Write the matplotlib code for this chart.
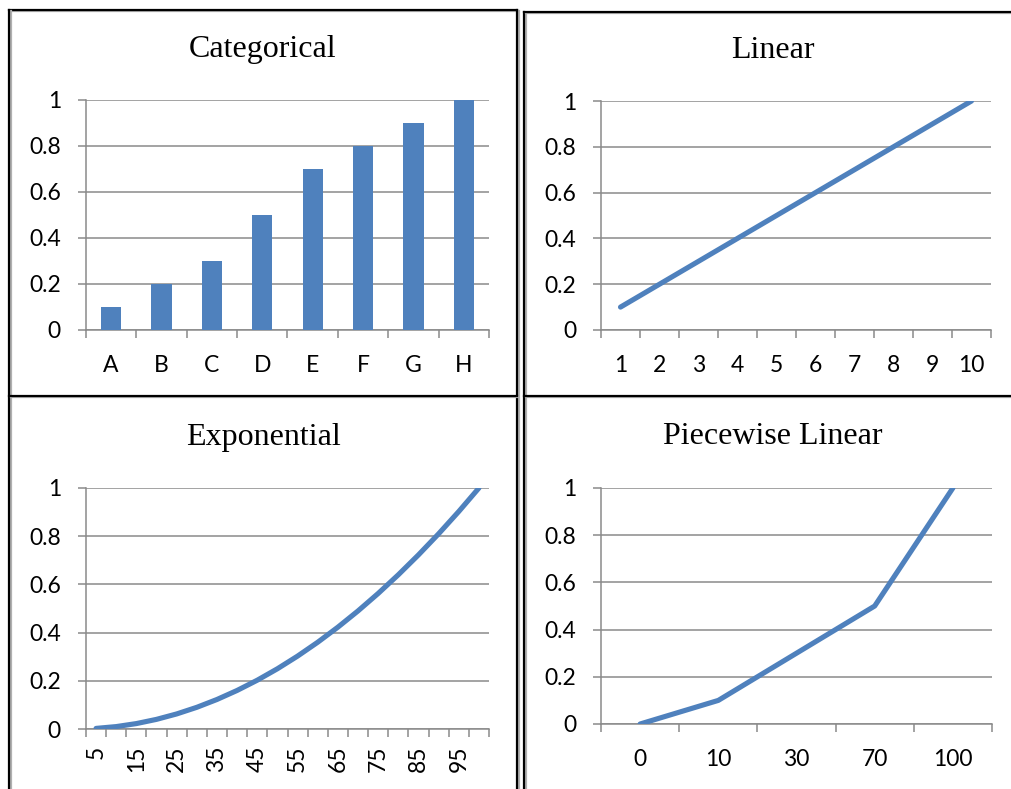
import matplotlib
matplotlib.use("Agg")
import matplotlib.pyplot as plt
from matplotlib.lines import Line2D
import numpy as np

# data for the four panels
cat_labels = ["A", "B", "C", "D", "E", "F", "G", "H"]
cat_values = [0.1, 0.2, 0.3, 0.5, 0.7, 0.8, 0.9, 1.0]

lin_labels = ["1", "2", "3", "4", "5", "6", "7", "8", "9", "10"]
lin_values = [0.1, 0.2, 0.3, 0.4, 0.5, 0.6, 0.7, 0.8, 0.9, 1.0]

exp_labels = ["5", "10", "15", "20", "25", "30", "35", "40", "45", "50",
              "55", "60", "65", "70", "75", "80", "85", "90", "95", "100"]
exp_values = [0.0025, 0.01, 0.0225, 0.04, 0.0625, 0.09, 0.1225, 0.16, 0.2025, 0.25,
              0.3025, 0.36, 0.4225, 0.49, 0.5625, 0.64, 0.7225, 0.81, 0.9025, 1.0]

pw_labels = ["0", "10", "30", "70", "100"]
pw_values = [0.0, 0.1, 0.3, 0.5, 1.0]

y_ticks = [0, 0.2, 0.4, 0.6, 0.8, 1]
y_ticklabels = ["0", "0.2", "0.4", "0.6", "0.8", "1"]

BLUE = "#4F81BD"
GRID = "#8A8A8A"
TICK_FONT = dict(fontfamily="Lato", fontsize=16.5)
W, H = 1012, 789

fig = plt.figure(figsize=(W / 100, H / 100), dpi=100)
fig.patch.set_facecolor("white")


def px_axes(x0, y0, x1, y1):
    # axes from pixel box (top-left origin)
    return fig.add_axes([x0 / W, 1 - y1 / H, (x1 - x0) / W, (y1 - y0) / H])


def style(ax, n, tick_pad=18):
    ax.set_ylim(0, 1)
    ax.set_xlim(-0.5, n - 0.5)
    ax.set_yticks(y_ticks)
    ax.set_yticklabels(y_ticklabels, **TICK_FONT)
    ax.yaxis.grid(True, color=GRID, linewidth=1.1)
    ax.set_axisbelow(True)
    ax.tick_params(axis="y", length=6, width=1.1, color=GRID, pad=12)
    for s in ["top", "right"]:
        ax.spines[s].set_visible(False)
    for s in ["left", "bottom"]:
        ax.spines[s].set_color(GRID)
        ax.spines[s].set_linewidth(1.1)
    ax.set_xticks(np.arange(-0.5, n), minor=True)
    ax.tick_params(axis="x", which="minor", length=6, width=1.1, color=GRID)
    ax.tick_params(axis="x", which="major", length=0, pad=tick_pad)


def panel_title(text, x, y):
    fig.text(x / W, 1 - y / H, text, ha="center", va="center",
             fontfamily="Liberation Serif", fontsize=23)


# Categorical
ax1 = px_axes(86, 100, 489, 330)
ax1.bar(np.arange(len(cat_values)), cat_values, width=0.4, color=BLUE, zorder=3)
ax1.set_xticks(np.arange(len(cat_labels)))
ax1.set_xticklabels(cat_labels, **TICK_FONT)
style(ax1, len(cat_values))
panel_title("Categorical", 263, 49)

# Linear
ax2 = px_axes(601, 101, 991, 330)
ax2.plot(np.arange(len(lin_values)), lin_values, color=BLUE, linewidth=3.7,
         solid_capstyle="round", zorder=3)
ax2.set_xticks(np.arange(len(lin_labels)))
ax2.set_xticklabels(lin_labels, **TICK_FONT)
style(ax2, len(lin_values))
panel_title("Linear", 773, 51)

# Exponential
ax3 = px_axes(86, 488, 489, 729)
ax3.plot(np.arange(len(exp_values)), exp_values, color=BLUE, linewidth=3.7,
         solid_capstyle="round", zorder=3)
ax3.set_xticks(np.arange(0, len(exp_labels), 2))
ax3.set_xticklabels(exp_labels[::2], rotation=90, **TICK_FONT)
style(ax3, len(exp_values), tick_pad=12)
panel_title("Exponential", 263, 437)

# Piecewise Linear
ax4 = px_axes(601, 488, 992, 724)
ax4.plot(np.arange(len(pw_values)), pw_values, color=BLUE, linewidth=3.7,
         solid_capstyle="round", zorder=3)
ax4.set_xticks(np.arange(len(pw_labels)))
ax4.set_xticklabels(pw_labels, **TICK_FONT)
style(ax4, len(pw_values))
panel_title("Piecewise Linear", 773, 437)


# table borders around the panels
def border(x0, y0, x1, y1):
    for dx, col, lw in [(1.2, "#B0B0B0", 1.6), (0, "black", 1.6)]:
        fig.add_artist(Line2D([(x0 + dx) / W, (x1 + dx) / W],
                              [1 - (y0 + dx) / H, 1 - (y1 + dx) / H],
                              color=col, linewidth=lw, transform=fig.transFigure))


border(9.5, 9.5, 517, 9.5)
border(9.5, 9.5, 9.5, H)
border(517.5, 9.5, 517.5, H)
border(524.5, 11.5, 524.5, H)
border(524.5, 11.5, W, 11.5)
border(9.5, 396, 517, 396)
border(524.5, 396, W, 396)

fig.savefig("out.png", dpi=100)
